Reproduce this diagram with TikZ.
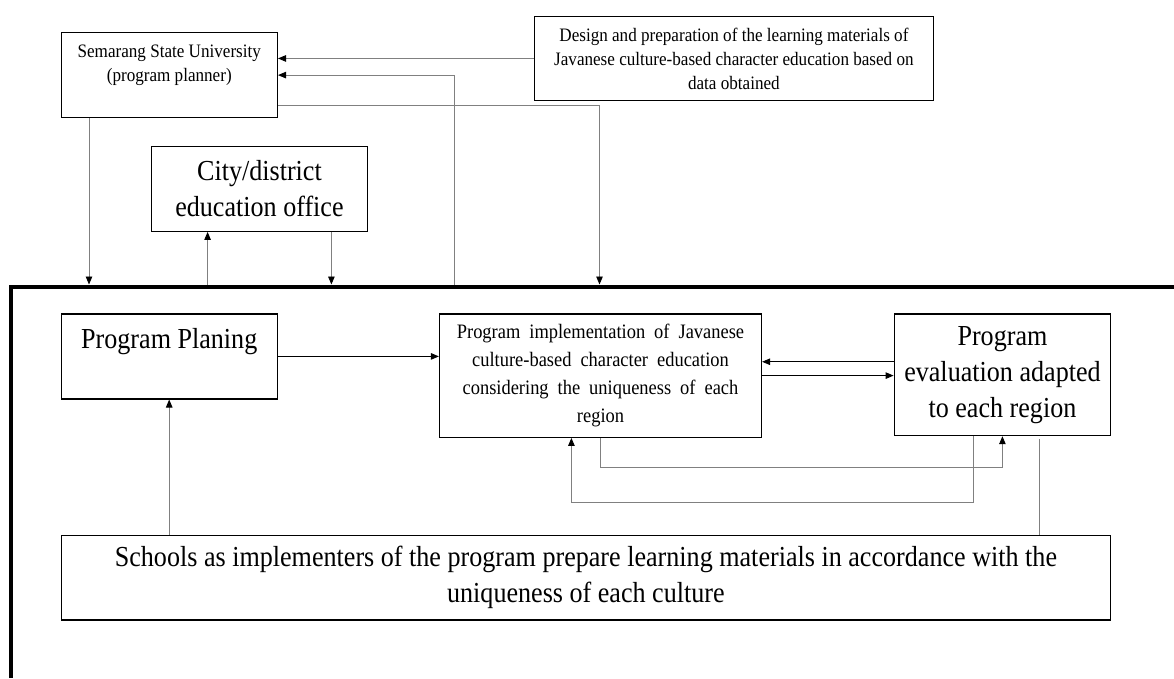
\documentclass[tikz,border=0pt]{standalone}
\usepackage{fontspec}
\setmainfont[FakeStretch=0.9]{Liberation Serif}
\usetikzlibrary{arrows.meta}
\begin{document}
\begin{tikzpicture}[x=1pt,y=-1pt,
        >={Triangle[length=8pt,width=6.5pt,black]},
        box/.style={draw,line width=1.2pt,inner xsep=4pt,inner ysep=0pt,anchor=north west,align=center},
        small/.style={font=\fontsize{19}{24}\selectfont},
        big/.style={font=\fontsize{29}{36}\selectfont},
        link/.style={draw=gray,line width=0.9pt,->},
        flow/.style={draw=black,line width=0.9pt,->}]
        \useasboundingbox (0,0) rectangle (1174,678);
        \node[box,small,minimum width=216.3,text height=48.6,text depth=36.4] (ssu) at (60.5,32) {Semarang State University\\(program planner)};
        \node[box,small,minimum width=399,minimum height=84.3] (design) at (533.8,15.7) {Design and preparation of the learning materials of\\Javanese culture-based character education based on\\data obtained};
        \node[box,big,minimum width=216.3,minimum height=85] (office) at (150.7,145.7) {City/district\\education office};
        \draw[line width=4.5pt] (11,678) -- (11,287) -- (1174,287);
        \coordinate (rim) at (0,284.5);
        \node[box,font={\fontsize{20.5}{28}\selectfont\spaceskip=9pt\relax},minimum width=322,minimum height=123.4] (impl) at (438.9,313.3) {Program implementation of Javanese\\culture-based character education\\considering the uniqueness of each\\region};
        \node[box,big,minimum width=216.3,text height=35,text depth=50] (plan) at (60.5,313.3) {Program Planing};
        \node[box,big,minimum width=216.5,minimum height=121.7] (eval) at (893.6,313.3) {Program\\evaluation adapted\\to each region};
        \node[box,big,minimum width=1049.6,minimum height=84.3] (school) at (60.5,535) {Schools as implementers of the program prepare learning materials in accordance with the\\uniqueness of each culture};
        \draw[link] (design.west) -- (design.west -| ssu.east);
        \draw[link] (rim -| 454.7,0) |- (ssu.east);
        \draw[link] ([yshift=-30.5pt]ssu.east) -| (rim -| 599.5,0);
        \draw[link] (ssu.south -| 89,0) -- (rim -| 89,0);
        \draw[link] (rim -| 207.6,0) -- (office.south -| 207.6,0);
        \draw[link] (office.south -| 331.4,0) -- (rim -| 331.4,0);
        \draw[flow] (plan.east) -- (plan.east -| impl.west);
        \draw[flow] ([yshift=13pt]eval.west) -- ([yshift=13pt]eval.west -| impl.east);
        \draw[flow] (impl.east) -- (impl.east -| eval.west);
        \draw[link] (impl.south -| 600,0) |- (1002.4,467.7) -- (eval.south -| 1002.4,0);
        \draw[link] (eval.south -| 973,0) |- (571.4,502.7) -- (impl.south -| 571.4,0);
        \draw[draw=gray,line width=0.9pt] ([yshift=-3pt]eval.south -| 1039.6,0) -- (school.north -| 1039.6,0);
        \draw[link] (school.north -| 169.2,0) -- (plan.south -| 169.2,0);
    \end{tikzpicture}
\end{document}
